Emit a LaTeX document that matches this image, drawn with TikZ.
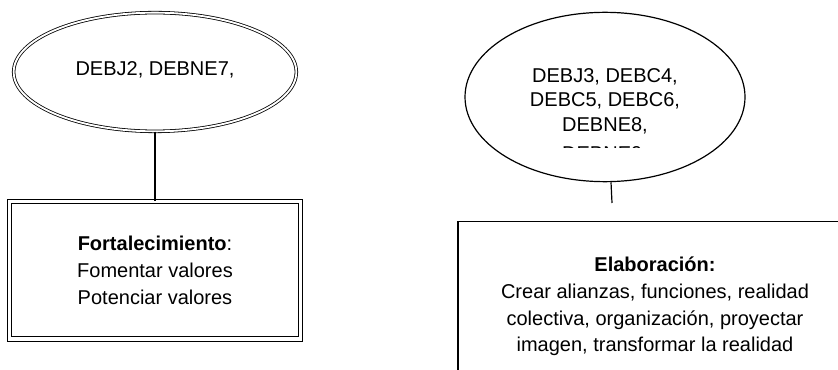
\documentclass[tikz,border=0pt]{standalone}
\usepackage{fontspec}
\setmainfont{Liberation Sans}
\usetikzlibrary{shapes.geometric,positioning}

\begin{document}
\begin{tikzpicture}[x=0.75pt, y=-0.75pt, line width=0.9pt,
    every node/.style={align=center, font=\fontsize{15}{20}\selectfont},
    oval/.style={draw, ellipse, inner sep=0pt},
    panel/.style={draw, rectangle, inner sep=0pt}]
    \useasboundingbox (0,0) rectangle (838,370);
    \clip (0,0) rectangle (838,370);
    \node (debj2) [oval, double, double distance=1.4pt, line width=0.6pt, minimum width=212pt, minimum height=89pt] at (155,72) {};
    \node (pair) at (155,70) {DEBJ2, DEBNE7,};
    \node (fortal) [panel, double, double distance=2.4pt, line width=0.8pt, minimum width=218pt, minimum height=103pt, below=52pt of debj2] {\textbf{Fortalecimiento}:\\Fomentar valores\\Potenciar valores};
    \node (debj3) [oval, minimum width=210pt, minimum height=127pt] at (605,97) {};
    \node (codes) [font=\fontsize{15}{18.4}\selectfont] at (605,101) {DEBJ3, DEBC4,\\DEBC5, DEBC6,\\DEBNE8,};
    \begin{scope}
        \clip (480,140) rectangle (730,148);
        \node (debne9) at (605,155) {DEBNE9,};
    \end{scope}
    \node (elab) [panel, minimum width=295.5pt, minimum height=127.5pt, below=29pt of debj3, xshift=37.5pt] {\textbf{Elaboración:}\\Crear alianzas, funciones, realidad\\colectiva, organización, proyectar\\imagen, transformar la realidad};
    \coordinate (stub) at (612,203);
    \draw (debj2) -- (fortal);
    \draw ([xshift=4.5pt]debj3.south) -- (stub);
\end{tikzpicture}
\end{document}
